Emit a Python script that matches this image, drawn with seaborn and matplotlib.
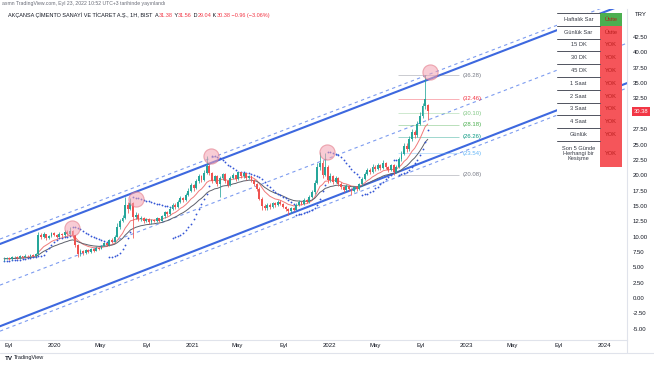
import numpy as np
import pandas as pd
import matplotlib
matplotlib.use("Agg")
import matplotlib.pyplot as plt
import matplotlib.transforms as mtransforms
import seaborn as sns

W, H = 654, 366

# Haftalık mumlar, Ağu 2019 - Eyl 2022 (kapanış / en yüksek / en düşük)
closes = [6.4, 6.5, 6.3, 6.6, 6.7, 6.5, 6.8, 6.7, 6.9, 6.8, 7.0, 6.9, 7.1,
          10.2,
          10.0, 10.4, 9.8, 10.1, 10.6, 10.3, 10.0, 10.5, 10.2, 10.8, 10.4,
          10.9,
          10.2, 8.6, 7.1, 7.6, 7.3, 7.8, 7.5, 7.9, 7.7, 8.2, 8.0, 8.5, 8.9, 8.6, 9.4, 9.2, 10.0,
          11.5, 12.6, 13.0, 15.2,
          14.5, 15.4, 13.2, 13.6, 12.8, 13.1, 12.5, 12.9, 12.3, 12.7, 12.5, 13.0, 12.6, 13.3,
          14.0, 13.7, 14.5, 15.2, 14.8, 15.6, 16.3, 15.9, 16.8, 17.5, 18.4, 17.9, 19.0, 19.8,
          19.2, 20.4,
          21.5, 20.3, 19.1, 19.8, 18.6, 19.5, 20.2, 19.0, 18.4, 19.6, 20.1, 19.4, 20.5, 19.8,
          20.3, 19.6, 19.9, 19.2, 18.6, 17.8, 16.2,
          15.0, 14.6, 15.2, 14.8, 15.4, 15.1, 15.7, 15.3, 14.8, 14.5, 14.1, 14.7, 14.4, 15.2,
          15.6, 15.3, 16.0, 15.6, 16.5, 17.2, 18.8,
          21.3, 22.0, 20.0, 21.4, 19.2, 19.8, 18.9, 19.5, 18.6, 18.0, 17.6, 18.2, 17.7, 17.4,
          18.0, 17.8, 18.5,
          19.4, 20.2, 20.8, 20.5, 21.4, 21.0, 21.6, 21.2, 22.0, 21.3, 20.9, 21.6, 20.6, 21.4,
          22.6, 23.5, 24.8, 24.2, 25.9, 27.0, 26.5, 28.4, 29.6, 31.2, 32.4, 30.38]
highs = [6.6, 6.7, 6.6, 6.8, 6.9, 6.8, 7.0, 6.9, 7.1, 7.0, 7.2, 7.1, 7.4,
         10.7,
         10.6, 10.7, 10.5, 10.3, 10.8, 10.8, 10.4, 10.7, 10.6, 11.0, 11.0,
         11.6,
         11.1, 10.3, 8.8, 7.9, 7.8, 8.0, 7.9, 8.1, 8.0, 8.4, 8.3, 8.7, 9.1, 9.0, 9.6, 9.7, 10.3,
         12.2, 12.9, 13.6, 16.5,
         15.6, 16.3, 15.6, 14.0, 13.9, 13.4, 13.2, 13.1, 13.0, 12.9, 12.9, 13.2, 13.1, 13.5,
         14.2, 14.2, 14.8, 15.5, 15.4, 15.9, 16.6, 16.5, 17.1, 17.9, 18.8, 18.6, 19.4, 20.2,
         20.0, 20.9,
         23.2, 21.8, 20.6, 20.1, 20.0, 19.8, 20.4, 20.3, 19.3, 19.9, 20.4, 20.1, 20.5, 20.4,
         20.4, 20.2, 20.1, 19.9, 19.4, 18.8, 18.0,
         16.4, 15.3, 15.5, 15.4, 15.7, 15.6, 16.0, 15.9, 15.4, 15.0, 14.7, 14.9, 14.9, 15.4,
         15.9, 15.8, 16.3, 16.2, 16.8, 17.6, 19.3,
         22.0, 23.8, 22.4, 23.6, 21.7, 20.3, 20.1, 19.9, 19.7, 18.9, 18.3, 18.5, 18.4, 17.9,
         18.3, 18.2, 18.8,
         19.7, 20.6, 21.2, 21.1, 21.8, 21.7, 22.0, 21.9, 22.5, 22.2, 21.5, 21.9, 21.8, 21.7,
         23.0, 23.9, 25.3, 25.2, 26.4, 27.6, 27.4, 28.9, 30.3, 31.8, 36.28, 31.56]
lows = [6.1, 6.3, 6.2, 6.2, 6.5, 6.4, 6.4, 6.5, 6.6, 6.6, 6.7, 6.8, 6.8,
        7.0,
        9.6, 9.8, 9.5, 9.6, 10.0, 10.1, 9.7, 9.9, 10.0, 10.1, 10.2,
        10.3,
        9.8, 8.3, 6.6, 6.9, 7.0, 7.2, 7.3, 7.4, 7.5, 7.6, 7.8, 7.9, 8.4, 8.4, 8.5, 9.0, 9.1,
        9.9, 11.3, 12.3, 12.9,
        13.9, 14.3, 9.8, 12.8, 12.5, 12.6, 12.2, 12.3, 12.0, 12.1, 12.3, 12.4, 12.4, 12.5,
        13.1, 13.4, 13.6, 14.3, 14.5, 14.7, 15.4, 15.6, 15.8, 16.6, 17.3, 17.5, 17.8, 18.8,
        18.9, 19.1,
        20.2, 20.0, 18.7, 18.9, 18.2, 16.4, 19.3, 18.7, 18.0, 18.2, 19.4, 19.1, 19.2, 19.5,
        19.6, 19.3, 19.4, 18.9, 18.3, 17.5, 15.9,
        14.3, 14.3, 14.4, 14.5, 14.7, 14.9, 15.0, 15.1, 14.6, 14.2, 13.6, 13.9, 14.2, 14.3,
        15.0, 15.1, 15.2, 15.4, 15.5, 16.3, 17.0,
        18.6, 20.8, 19.6, 19.8, 18.8, 18.9, 18.6, 18.7, 18.3, 17.7, 17.3, 17.4, 17.4, 16.8,
        17.2, 17.5, 17.6,
        18.3, 19.2, 20.0, 20.2, 20.3, 20.7, 20.8, 20.9, 21.0, 21.0, 20.5, 20.7, 20.08, 20.4,
        21.2, 22.3, 23.3, 23.8, 24.0, 25.6, 26.0, 26.3, 28.1, 29.3, 30.8, 29.04]
first_open = 6.3
last_open = 31.38
last_week = "2022-09-19"

# Paralel kanal (iki uç nokta)
channel_dates = ["2019-08-08", "2024-03-02"]
channel_upper = [8.8, 48.0]
channel_lower = [-4.6, 35.0]
channel_gap = 0.8

# Tepe noktalarındaki pembe daireler
peak_dates = ["2020-02-15", "2020-08-04", "2021-02-19", "2021-12-25", "2022-09-24"]
peak_prices = [11.4, 16.1, 23.1, 23.8, 36.8]

# Fibonacci seviyeleri
fib_levels = [36.28, 32.46, 30.10, 28.18, 26.26, 23.54, 20.08]
fib_colors = ["#787b86", "#f23645", "#81c784", "#4caf50", "#089981", "#64b5f6", "#787b86"]
fib_start, fib_end, fib_label_at = "2022-07-03", "2022-12-10", "2022-12-22"

price_ticks = [-5.0, -2.5, 0.0, 2.5, 5.0, 7.5, 10.0, 12.5, 15.0, 17.5, 20.0,
               22.5, 25.0, 27.5, 32.5, 35.0, 37.5, 40.0, 42.5]
time_ticks = ["2019-09-01", "2020-01-01", "2020-05-01", "2020-09-01", "2021-01-01",
              "2021-05-01", "2021-09-01", "2022-01-01", "2022-05-01", "2022-09-01",
              "2023-01-01", "2023-05-01", "2023-09-01", "2024-01-01"]
time_labels = ["Eyl", "2020", "May", "Eyl", "2021", "May", "Eyl", "2022", "May", "Eyl",
               "2023", "May", "Eyl", "2024"]

table_labels = ["Haftalık Sar", "Günlük Sar", "15 DK", "30 DK", "45 DK", "1 Saat",
                "2 Saat", "3 Saat", "4 Saat", "Günlük", "Son 5 Günde\nHerhangi bir\nKesişme"]
table_values = ["Üstte", "Üstte", "YOK", "YOK", "YOK", "YOK", "YOK", "YOK", "YOK", "YOK", "YOK"]
table_good = [True, False, False, False, False, False, False, False, False, False, False]


def parabolic_sar(high, low, step=0.02, max_step=0.2):
    n = len(high)
    sar = np.zeros(n)
    up = True
    af = step
    ep = high[0]
    sar[0] = low[0]
    for i in range(1, n):
        s = sar[i - 1] + af * (ep - sar[i - 1])
        if up:
            s = min(s, low[i - 1], low[max(i - 2, 0)])
            if low[i] < s:
                up, s, ep, af = False, ep, low[i], step
            elif high[i] > ep:
                ep = high[i]
                af = min(af + step, max_step)
        else:
            s = max(s, high[i - 1], high[max(i - 2, 0)])
            if high[i] > s:
                up, s, ep, af = True, ep, high[i], step
            elif low[i] < ep:
                ep = low[i]
                af = min(af + step, max_step)
        sar[i] = s
    return sar


sns.set_theme(style="white")
plt.rcParams['font.family'] = ['Liberation Sans', 'DejaVu Sans']

dates = pd.date_range(end=last_week, periods=len(closes), freq="7D")
opens = [first_open] + closes[:-1]
opens[-1] = last_open
df = pd.DataFrame({"date": dates, "open": opens, "high": highs, "low": lows, "close": closes})
df["ema_fast"] = df["close"].ewm(span=10, adjust=False).mean()
df["ema_slow"] = df["close"].ewm(span=20, adjust=False).mean()
df["sar"] = parabolic_sar(df["high"].values, df["low"].values)


def fx(x):
    return x / W


def fy(y):
    return 1 - y / H


fig = plt.figure(figsize=(W / 100, H / 100), dpi=100)
ax = fig.add_axes([0, fy(340), fx(627), fy(9) - fy(340)])
ax.set_facecolor("white")

# Kanal çizgileri
cdates = pd.to_datetime(channel_dates)
mid = [(a + b) / 2 for a, b in zip(channel_upper, channel_lower)]
ax.plot(cdates, channel_upper, color="#3d68df", lw=1.5, zorder=2)
ax.plot(cdates, channel_lower, color="#3d68df", lw=1.5, zorder=2)
ax.plot(cdates, [v + channel_gap for v in channel_upper], color="#7d9cf0", lw=0.8, ls=(0, (3, 3)), zorder=2)
ax.plot(cdates, [v - channel_gap for v in channel_lower], color="#7d9cf0", lw=0.8, ls=(0, (3, 3)), zorder=2)
ax.plot(cdates, mid, color="#7d9cf0", lw=0.8, ls=(0, (3, 3)), zorder=2)

# Fibonacci
fs, fe, fl = pd.Timestamp(fib_start), pd.Timestamp(fib_end), pd.Timestamp(fib_label_at)
for lvl, col in zip(fib_levels, fib_colors):
    ax.hlines(lvl, fs, fe, colors=col, lw=0.6, alpha=0.45, zorder=2)
    ax.text(fl, lvl, f"({lvl:.2f})", color=col, fontsize=4.3, va="center", ha="left", zorder=3)

# Hareketli ortalamalar ve SAR
sns.lineplot(data=df, x="date", y="ema_fast", ax=ax, color="#f07a7a", lw=0.7, zorder=3)
sns.lineplot(data=df, x="date", y="ema_slow", ax=ax, color="#5d606b", lw=0.7, zorder=3)
sns.scatterplot(data=df, x="date", y="sar", ax=ax, color="#3556d6", s=1.7, linewidth=0, zorder=3)

# Mumlar
up = df["close"] >= df["open"]
colors = np.where(up, "#26a69a", "#ef5350")
ax.vlines(df["date"], df["low"], df["high"], colors=colors, lw=0.55, zorder=4)
body = (df["close"] - df["open"]).abs().clip(lower=0.08)
ax.bar(df["date"], body, bottom=np.minimum(df["open"], df["close"]), width=5.0,
       color=colors, lw=0, zorder=4)

sns.scatterplot(x=pd.to_datetime(peak_dates), y=peak_prices, ax=ax, s=120,
                color="#f4a3b3", alpha=0.55, edgecolor="#e0707f", linewidth=0.8, zorder=5)

ax.set_xlim(pd.Timestamp("2019-08-08"), pd.Timestamp("2024-03-02"))
ax.set_ylim(-6.84, 47.07)
ax.set_xticks(pd.to_datetime(time_ticks))
ax.set_xticklabels(time_labels)
ax.set_yticks(price_ticks)
ax.set_yticklabels([f"{v:.2f}" for v in price_ticks])
ax.yaxis.tick_right()
ax.tick_params(axis="both", length=0, labelsize=4.3, labelcolor="#131722")
ax.tick_params(axis="x", pad=2.5)
ax.tick_params(axis="y", pad=4)
ax.set_xlabel("")
ax.set_ylabel("")
for side in ["top", "left"]:
    ax.spines[side].set_visible(False)
for side in ["right", "bottom"]:
    ax.spines[side].set_color("#e0e3eb")
    ax.spines[side].set_linewidth(0.8)

fig.add_artist(plt.Line2D([fx(627), fx(627)], [fy(340), fy(353)], color="#e0e3eb", lw=0.8))
fig.add_artist(plt.Line2D([0, 1], [fy(353), fy(353)], color="#e0e3eb", lw=0.8))

# Fiyat ekseni: para birimi ve son fiyat etiketi
fig.text(fx(641), fy(14), "TRY", fontsize=4.3, color="#131722", ha="center", va="center")
trans = mtransforms.blended_transform_factory(fig.transFigure, ax.transData)
ax.text(fx(641), closes[-1], f"{closes[-1]:.2f}", transform=trans, fontsize=4.2, color="white",
        ha="center", va="center", clip_on=False,
        bbox=dict(boxstyle="square,pad=0.35", fc="#f23645", ec="none"))

# Başlık
fig.text(fx(2), fy(4), "asmn TradingView.com, Eyl 23, 2022 10:52 UTC+3 tarihinde yayınlandı",
         fontsize=3.7, color="#6a6d78", ha="left", va="center")
red = "#f23645"
dark = "#131722"
pieces = [("AKÇANSA ÇİMENTO SANAYİ VE TİCARET A.Ş., 1H, BIST  ", dark), ("A", dark),
          ("31.38", red), (" Y", dark), ("31.56", red), (" D", dark), ("29.04", red),
          (" K", dark), ("30.38", red), (" −0.96 (−3.06%)", red)]
renderer = fig.canvas.get_renderer()
x0 = fx(8)
for txt, col in pieces:
    t = fig.text(x0, fy(18), txt, fontsize=3.95, color=col, ha="left", va="bottom")
    x0 += t.get_window_extent(renderer=renderer).width / W

fig.text(fx(5), fy(358), "TV", fontsize=4.5, color="#131722", weight="bold", ha="left", va="center")
fig.text(fx(14), fy(358), "TradingView", fontsize=4.0, color="#131722", ha="left", va="center")

# Tablo
tax = fig.add_axes([fx(557), fy(167), fx(622) - fx(557), fy(13) - fy(167)], zorder=10)
tax.set_xlim(0, 65)
tax.set_ylim(154, 0)
tax.axis("off")
row_h = 12.8
for i, (lab, val, good) in enumerate(zip(table_labels, table_values, table_good)):
    top = i * row_h
    h = row_h if i < len(table_labels) - 1 else 154 - top
    tax.add_patch(plt.Rectangle((0, top), 43, h, fc="white", ec="none"))
    tax.add_patch(plt.Rectangle((43, top), 22, h, fc="#4caf50" if good else "#f5555a", ec="none"))
    tax.plot([0, 43], [top, top], color="#50535e", lw=0.7)
    tax.text(21.5, top + h / 2, lab, fontsize=4.1, color="#363a45", ha="center", va="center",
             linespacing=1.0)
    tax.text(54, top + h / 2, val, fontsize=4.1, color="#b71c1c", ha="center", va="center")

fig.savefig("out.png", dpi=100)
